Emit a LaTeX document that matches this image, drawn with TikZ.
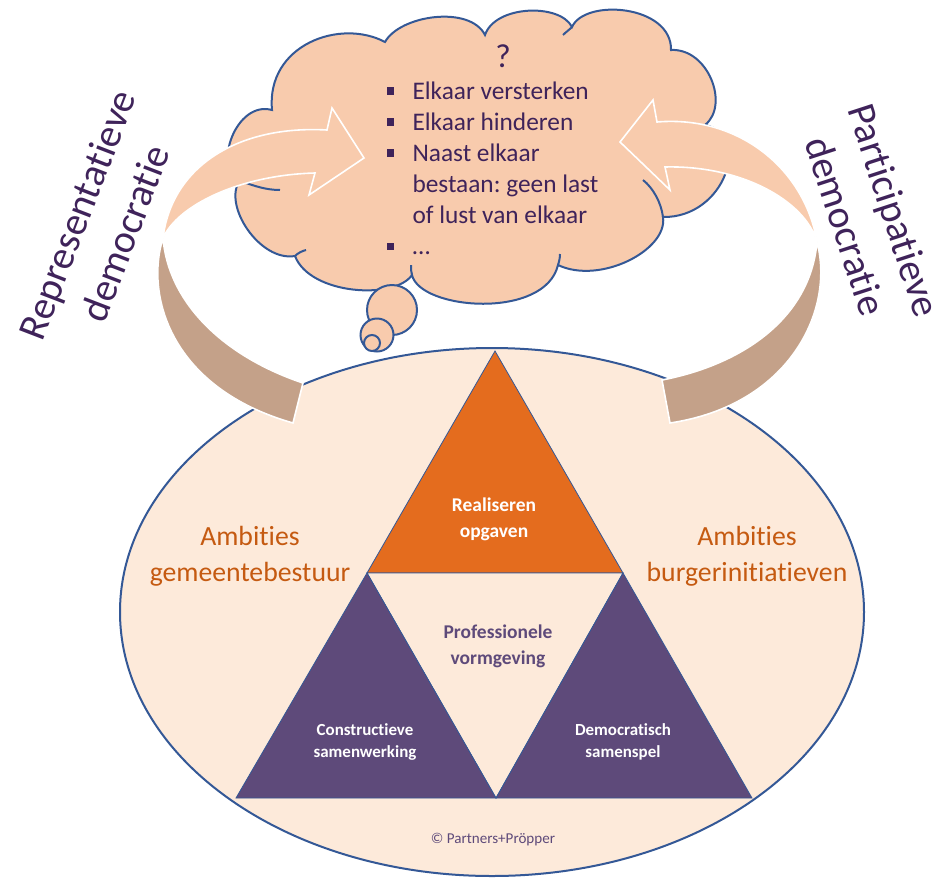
\documentclass[tikz,border=0pt]{standalone}
\usepackage{fontspec}
\setmainfont{Carlito}[Ligatures=NoCommon]

\definecolor{randblauw}{RGB}{52,88,150}
\definecolor{ellipsvlak}{RGB}{253,234,218}
\definecolor{wolkvlak}{RGB}{248,203,173}
\definecolor{bruinvlak}{RGB}{196,161,137}
\definecolor{oranjevlak}{RGB}{228,108,30}
\definecolor{paarsvlak}{RGB}{94,74,122}
\definecolor{oranjetekst}{RGB}{197,90,17}
\definecolor{donkerpaars}{RGB}{63,35,90}

\tikzset{every picture/.style={line width=0.75pt}}
\tikzset{
  wolkrand/.style={draw=randblauw, line width=1.5pt, fill=wolkvlak},
  pijlvlak/.style={draw=white, line width=1.2pt, fill=#1},
  driehoek/.style={draw=randblauw, line width=0.6pt, fill=#1},
  lijst/.style={inner sep=0pt, text=donkerpaars, align=left, font=\fontsize{19}{23.3}\selectfont},
  zijtekst/.style={inner sep=0.75pt, text=donkerpaars, align=center, font=\fontsize{30}{38.5}\selectfont},
  ambitie/.style={inner sep=0.75pt, text=oranjetekst, align=center, font=\fontsize{20.8}{27}\selectfont},
  hoektekst/.style={inner sep=0.75pt, text=white, align=center, font=\bfseries\fontsize{12.7}{17}\selectfont}
}
\newcommand{\blokje}{\makebox[19.5pt][l]{\raisebox{3.4pt}{\rule{5.5pt}{5.5pt}}}}
\frenchspacing

\begin{document}
\begin{tikzpicture}[x=0.75pt,y=0.75pt,yscale=-1,xscale=1]
    \useasboundingbox (0,0) rectangle (946,879);

    %Shape: Ellipse [id:dp_ellips]
    \draw [draw=randblauw, line width=1.5pt, fill=ellipsvlak] (492,612) ellipse (372 and 264);

    %Shape: Cloud [id:dp_wolk]
    \draw [wolkrand] (295,256) .. controls (260,262) and (222,205) .. (240,180)
      .. controls (212,168) and (236,100) .. (272,110)
      .. controls (266,45) and (340,18) .. (385,42)
      .. controls (400,15) and (470,5) .. (485,35)
      .. controls (495,5) and (560,3) .. (572,27)
      .. controls (585,-2) and (672,5) .. (671,50)
      .. controls (708,48) and (730,105) .. (705,125)
      .. controls (752,135) and (725,218) .. (663,217)
      .. controls (668,250) and (600,285) .. (558,265)
      .. controls (545,320) and (420,310) .. (412,275)
      .. controls (395,300) and (310,295) .. (295,256) -- cycle ;
    %Curve Lines [id:da_haakjes]
    \draw [randblauw, line width=1.5pt] (243,182) .. controls (255,186) and (266,190) .. (280,190) ;
    \draw [randblauw, line width=1.5pt] (295,256) .. controls (298,253) and (302,251) .. (306,250) ;
    \draw [randblauw, line width=1.5pt] (412,275) .. controls (411,272) and (411,269) .. (411,265) ;
    \draw [randblauw, line width=1.5pt] (558,265) .. controls (559,262) and (560,258) .. (560,254) ;
    \draw [randblauw, line width=1.5pt] (663,217) .. controls (661,202) and (653,188) .. (643,180) ;
    \draw [randblauw, line width=1.5pt] (572,27) .. controls (569,30) and (566,32) .. (563,35) ;

    %Shape: Circle [id:dp_bellen]
    \draw [wolkrand] (392,310) circle (25) ;
    \draw [wolkrand] (377,335) circle (16.5) ;
    \draw [wolkrand] (372,343) circle (8) ;

    %Shape: Curved Arrow (left) [id:dp_pijllinks]
    \draw [pijlvlak=bruinvlak] (163,238) .. controls (145,295) and (170,388) .. (293,423) -- (303,383) .. controls (220,355) and (168,300) .. cycle ;
    \draw [pijlvlak=wolkvlak] (163,238) .. controls (172,165) and (240,125) .. (327,130) -- (332,108) -- (364,158) -- (309,195) -- (315,173) .. controls (240,175) and (178,205) .. cycle ;

    %Shape: Curved Arrow (right) [id:dp_pijlrechts]
    \draw [pijlvlak=bruinvlak] (817,242) .. controls (835,310) and (790,405) .. (670,423) -- (662,380) .. controls (740,365) and (810,320) .. cycle ;
    \draw [pijlvlak=wolkvlak] (817,242) .. controls (805,170) and (740,115) .. (657,122) -- (653,100) -- (620,142) -- (670,190) -- (665,167) .. controls (740,165) and (805,200) .. cycle ;

    %Shape: Triangles [id:dp_driehoeken]
    \coordinate (top) at (495,351) ;
    \coordinate (midL) at (367,573) ;
    \coordinate (midR) at (623,573) ;
    \coordinate (ondL) at (236,798) ;
    \coordinate (ondM) at (496,798) ;
    \coordinate (ondR) at (752,798) ;
    \draw [driehoek=oranjevlak] (top) -- (midL) -- (midR) -- cycle ;
    \draw [driehoek=ellipsvlak] (midL) -- (midR) -- (ondM) -- cycle ;
    \draw [driehoek=paarsvlak] (midL) -- (ondL) -- (ondM) -- cycle ;
    \draw [driehoek=paarsvlak] (midR) -- (ondM) -- (ondR) -- cycle ;

    % Text Node
    \draw (503,56) node (vraag) [inner sep=0.75pt, text=donkerpaars, font=\fontsize{25}{28}\selectfont] {?};
    % Text Node
    \draw (386,81) node (opties) [anchor=north west, lijst] {\blokje Elkaar versterken\\ \blokje Elkaar hinderen\\ \blokje Naast elkaar\\ \hspace*{19.5pt}bestaan: geen last\\ \hspace*{19.5pt}of lust van elkaar\\ \blokje …};
    % Text Node
    \draw (101,224) node (repdem) [rotate=69, zijtekst] {Representatieve\\democratie};
    % Text Node
    \draw (870,218) node (partdem) [rotate=-72, zijtekst] {Participatieve\\democratie};
    % Text Node
    \draw (250,556) node (ambgem) [ambitie] {Ambities\\gemeentebestuur};
    % Text Node
    \draw (747,556) node (ambbur) [ambitie] {Ambities\\burgerinitiatieven};
    % Text Node
    \draw (494,519) node (opgaven) [hoektekst, font=\bfseries\fontsize{14.6}{19.5}\selectfont] {Realiseren\\opgaven};
    % Text Node
    \draw (498,646) node (vormgeving) [hoektekst, text=paarsvlak, font=\bfseries\fontsize{14.6}{19.5}\selectfont] {Professionele\\vormgeving};
    % Text Node
    \draw (365,742) node (samenwerking) [hoektekst] {Constructieve\\samenwerking};
    % Text Node
    \draw (623,742) node (samenspel) [hoektekst] {Democratisch\\samenspel};
    % Text Node
    \draw (493,840) node (copyright) [inner sep=0.75pt, text=paarsvlak, font=\fontsize{11.3}{13}\selectfont] {© Partners+Pröpper};

\end{tikzpicture}
\end{document}
